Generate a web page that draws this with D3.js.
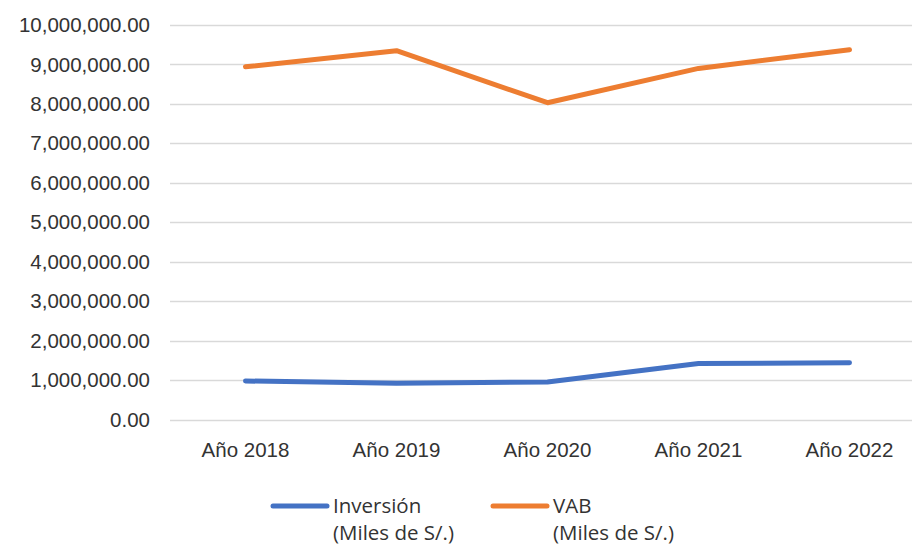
<!DOCTYPE html>
<html>
<head>
<meta charset="utf-8">
<script src="https://cdn.jsdelivr.net/npm/d3@7"></script>
<style>
  body { margin: 0; background: #fff; }
  svg { display: block; font-family: "Open Sans", "Noto Sans", sans-serif; }
</style>
</head>
<body>
<svg id="chart"></svg>
<script>
// datos
const years = ["Año 2018", "Año 2019", "Año 2020", "Año 2021", "Año 2022"];
const inversion = [976000, 920000, 950000, 1420000, 1440000];
const vab = [8940000, 9350000, 8030000, 8900000, 9370000];
const yTicks = [0, 1e6, 2e6, 3e6, 4e6, 5e6, 6e6, 7e6, 8e6, 9e6, 10e6];
const seriesNames = [["Inversión", "(Miles de S/.)"], ["VAB", "(Miles de S/.)"]];

const W = 912, H = 545;
const margin = {top: 25, left: 170, right: -13, bottom: 125.5};
const width = W - margin.left - margin.right,
      height = H - margin.top - margin.bottom;
const fontSize = 20.5;

const svg = d3.select("#chart").attr("width", W).attr("height", H);
const chart = svg.append("g")
    .attr("transform", "translate(" + margin.left + "," + margin.top + ")");

const x = d3.scaleBand().domain(years).range([0, width]);
const y = d3.scaleLinear().domain([0, 10e6]).range([height, 0]);

// lineas de grilla
chart.append("g")
  .selectAll("line")
  .data(yTicks)
  .join("line")
    .attr("x1", 0).attr("x2", width)
    .attr("y1", d => Math.round(y(d)) + 0.5)
    .attr("y2", d => Math.round(y(d)) + 0.5)
    .attr("stroke", "#d9d9d9")
    .attr("stroke-width", 1.3);

// eje y
const yAxis = d3.axisLeft(y).tickValues(yTicks).tickSize(0).tickPadding(20)
    .tickFormat(d3.format(",.2f"));
chart.append("g").attr("class", "y axis").call(yAxis)
  .call(g => g.select(".domain").remove())
  .selectAll("text")
    .attr("font-size", fontSize)
    .attr("fill", "#333");

// eje x
const xAxis = d3.axisBottom(x).tickSize(0).tickPadding(23);
chart.append("g").attr("class", "x axis")
    .attr("transform", "translate(0," + height + ")")
    .call(xAxis)
  .call(g => g.select(".domain").remove())
  .selectAll("text")
    .attr("font-size", fontSize)
    .attr("fill", "#333");

// lineas
const line = d3.line()
    .x((d, i) => x(years[i]) + x.bandwidth() / 2)
    .y(d => y(d));

chart.append("path")
  .datum(inversion)
  .attr("d", line)
  .attr("fill", "none")
  .attr("stroke", "#4472C4")
  .attr("stroke-width", 5)
  .attr("stroke-linecap", "round")
  .attr("stroke-linejoin", "round");

chart.append("path")
  .datum(vab)
  .attr("d", line)
  .attr("fill", "none")
  .attr("stroke", "#ED7D31")
  .attr("stroke-width", 5)
  .attr("stroke-linecap", "round")
  .attr("stroke-linejoin", "round");

// leyenda
const legColors = ["#4472C4", "#ED7D31"];
const legX = [273, 493];
const legend = svg.append("g");
seriesNames.forEach((names, i) => {
  const g = legend.append("g").attr("transform", "translate(" + legX[i] + ",506)");
  g.append("line")
    .attr("x1", 0).attr("x2", 54)
    .attr("stroke", legColors[i])
    .attr("stroke-width", 5)
    .attr("stroke-linecap", "round");
  const t = g.append("text")
    .attr("x", 60)
    .attr("y", 7)
    .attr("font-size", fontSize)
    .attr("fill", "#333");
  t.append("tspan").attr("x", 60).attr("dy", 0).text(names[0]);
  t.append("tspan").attr("x", 60).attr("dy", 26.5).text(names[1]);
});
</script>
</body>
</html>
